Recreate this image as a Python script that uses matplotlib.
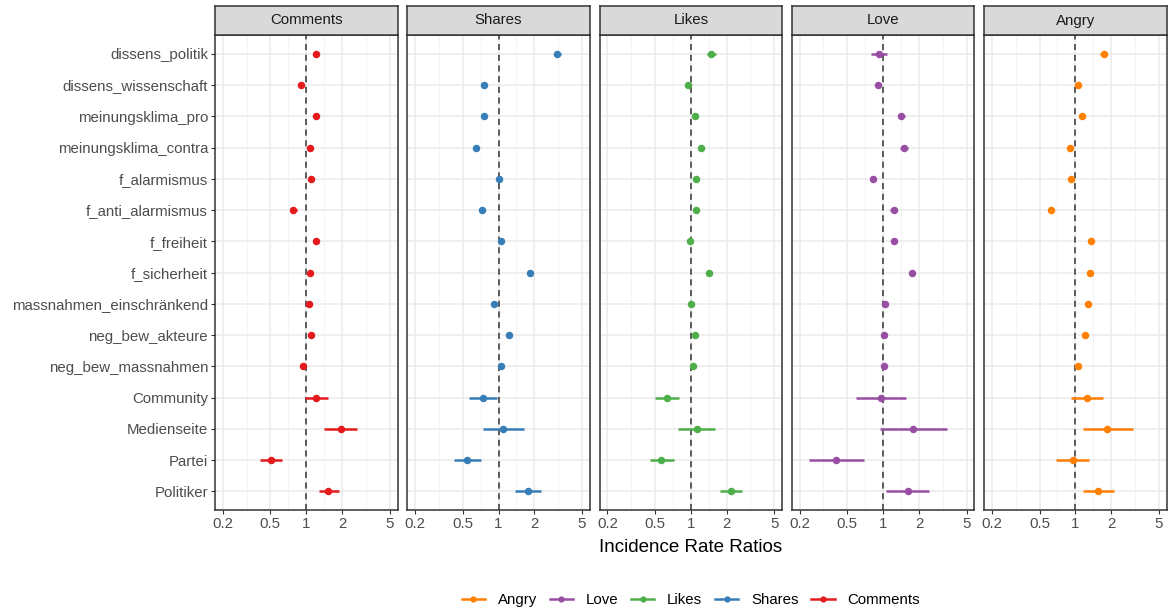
import numpy as np
import matplotlib
matplotlib.use('Agg')
import matplotlib.pyplot as plt
from matplotlib.lines import Line2D

plt.rcParams['font.family'] = ['Liberation Sans', 'DejaVu Sans']

terms = ['dissens_politik', 'dissens_wissenschaft', 'meinungsklima_pro',
         'meinungsklima_contra', 'f_alarmismus', 'f_anti_alarmismus',
         'f_freiheit', 'f_sicherheit', 'massnahmen_einschränkend',
         'neg_bew_akteure', 'neg_bew_massnahmen', 'Community',
         'Medienseite', 'Partei', 'Politiker']

panels = ['Comments', 'Shares', 'Likes', 'Love', 'Angry']
colors = {'Comments': '#E41A1C', 'Shares': '#377EB8', 'Likes': '#4DAF4A',
          'Love': '#984EA3', 'Angry': '#FF7F00'}

# incidence rate ratios (estimate) with lower / upper confidence bounds
comments_est = [1.21, 0.90, 1.21, 1.08, 1.10, 0.78, 1.21, 1.08, 1.045, 1.10, 0.94, 1.215, 1.95, 0.506, 1.535]
comments_lo = [1.14, 0.87, 1.15, 1.02, 1.06, 0.73, 1.17, 1.03, 1.01, 1.07, 0.91, 0.98, 1.42, 0.408, 1.27]
comments_hi = [1.29, 0.93, 1.28, 1.14, 1.14, 0.83, 1.25, 1.13, 1.08, 1.13, 0.97, 1.51, 2.68, 0.627, 1.88]

shares_est = [3.11, 0.753, 0.748, 0.647, 1.01, 0.725, 1.045, 1.845, 0.92, 1.216, 1.045, 0.743, 1.10, 0.542, 1.754]
shares_lo = [2.89, 0.73, 0.71, 0.61, 0.98, 0.69, 1.01, 1.78, 0.89, 1.18, 1.01, 0.567, 0.738, 0.421, 1.38]
shares_hi = [3.36, 0.78, 0.79, 0.69, 1.04, 0.76, 1.08, 1.91, 0.95, 1.25, 1.08, 0.969, 1.647, 0.707, 2.26]

likes_est = [1.489, 0.939, 1.092, 1.216, 1.113, 1.113, 0.987, 1.433, 1.006, 1.092, 1.039, 0.631, 1.127, 0.567, 2.174]
likes_lo = [1.36, 0.91, 1.04, 1.15, 1.08, 1.06, 0.96, 1.38, 0.97, 1.06, 1.00, 0.496, 0.787, 0.454, 1.754]
likes_hi = [1.63, 0.97, 1.15, 1.29, 1.15, 1.17, 1.02, 1.49, 1.04, 1.13, 1.08, 0.802, 1.606, 0.716, 2.69]

love_est = [0.921, 0.898, 1.424, 1.497, 0.827, 1.224, 1.231, 1.754, 1.039, 1.013, 1.019, 0.957, 1.788, 0.405, 1.606]
love_lo = [0.787, 0.86, 1.34, 1.39, 0.79, 1.14, 1.18, 1.65, 1.00, 0.98, 0.98, 0.596, 0.939, 0.239, 1.065]
love_hi = [1.079, 0.94, 1.52, 1.62, 0.87, 1.31, 1.29, 1.86, 1.08, 1.05, 1.06, 1.546, 3.45, 0.693, 2.42]

angry_est = [1.72, 1.045, 1.127, 0.898, 0.921, 0.619, 1.354, 1.312, 1.263, 1.201, 1.045, 1.239, 1.856, 0.945, 1.546]
angry_lo = [1.61, 1.01, 1.09, 0.86, 0.89, 0.59, 1.32, 1.28, 1.23, 1.17, 1.01, 0.909, 1.156, 0.689, 1.149]
angry_hi = [1.84, 1.08, 1.17, 0.94, 0.95, 0.65, 1.39, 1.35, 1.30, 1.24, 1.08, 1.689, 3.04, 1.304, 2.09]

series = {
    'Comments': (comments_est, comments_lo, comments_hi),
    'Shares': (shares_est, shares_lo, shares_hi),
    'Likes': (likes_est, likes_lo, likes_hi),
    'Love': (love_est, love_lo, love_hi),
    'Angry': (angry_est, angry_lo, angry_hi),
}

major_ticks = [0.2, 0.5, 1, 2, 5]
minor_ticks = [0.316, 0.707, 1.414, 3.162]

W, H = 1168, 615
fig = plt.figure(figsize=(W / 100, H / 100), dpi=100)

left0 = 215
pw = 182.5
step = 192.3
ptop = 35
pbot = 510
strip_top = 6

ypos = np.arange(len(terms))
xlim = (10 ** -0.765, 10 ** 0.765)
txt = 10.8

for i, name in enumerate(panels):
    x0 = left0 + i * step
    ax = fig.add_axes([x0 / W, 1 - pbot / H, pw / W, (pbot - ptop) / H])
    est, lo, hi = series[name]
    c = colors[name]

    ax.set_xscale('log')
    ax.set_xlim(*xlim)
    ax.set_ylim(len(terms) - 0.4, -0.6)

    for t in major_ticks:
        ax.axvline(t, color='#EBEBEB', lw=1.1, zorder=0)
    for t in minor_ticks:
        ax.axvline(t, color='#F2F2F2', lw=0.6, zorder=0)
    for y in ypos:
        ax.axhline(y, color='#EBEBEB', lw=1.1, zorder=0)

    ax.axvline(1, color='#333333', lw=1.1, ls=(0, (4, 3)), zorder=1)

    ax.hlines(ypos, lo, hi, color=c, lw=1.8, zorder=2)
    ax.plot(est, ypos, 'o', color=c, ms=5.4, mec='none', zorder=3)

    ax.set_xticks(major_ticks)
    ax.set_xticklabels(['0.2', '0.5', '1', '2', '5'])
    ax.xaxis.set_minor_locator(plt.NullLocator())
    ax.tick_params(axis='x', length=3, width=0.8, color='#333333',
                   labelsize=txt, labelcolor='#4D4D4D', pad=2)
    ax.set_yticks(ypos)
    if i == 0:
        ax.set_yticklabels(terms)
        ax.tick_params(axis='y', length=3, width=0.8, color='#333333',
                       labelsize=txt, labelcolor='#4D4D4D', pad=2)
    else:
        ax.set_yticklabels([])
        ax.tick_params(axis='y', length=0)

    for s in ax.spines.values():
        s.set_color('#333333')
        s.set_linewidth(1.1)

    # facet strip
    sax = fig.add_axes([x0 / W, 1 - ptop / H, pw / W, (ptop - strip_top) / H])
    sax.set_facecolor('#D9D9D9')
    sax.set_xticks([])
    sax.set_yticks([])
    for s in sax.spines.values():
        s.set_color('#333333')
        s.set_linewidth(1.1)
    sax.text(0.5, 0.5, name, ha='center', va='center', fontsize=txt,
             color='#1A1A1A', transform=sax.transAxes)

xmid = (left0 + 4 * step + pw + left0) / 2 / W
fig.text(xmid, 1 - 547 / H, 'Incidence Rate Ratios', ha='center',
         va='center', fontsize=13.5, color='black')

legend_order = ['Angry', 'Love', 'Likes', 'Shares', 'Comments']
handles = [Line2D([0], [0], color=colors[n], lw=1.8, marker='o', ms=4.5,
                  mec='none') for n in legend_order]
fig.legend(handles, legend_order, loc='center',
           bbox_to_anchor=(xmid, 1 - 600 / H),
           ncol=5, frameon=False, fontsize=txt, handlelength=1.55,
           columnspacing=0.85, handletextpad=0.85)

fig.savefig('out.png', dpi=100)
